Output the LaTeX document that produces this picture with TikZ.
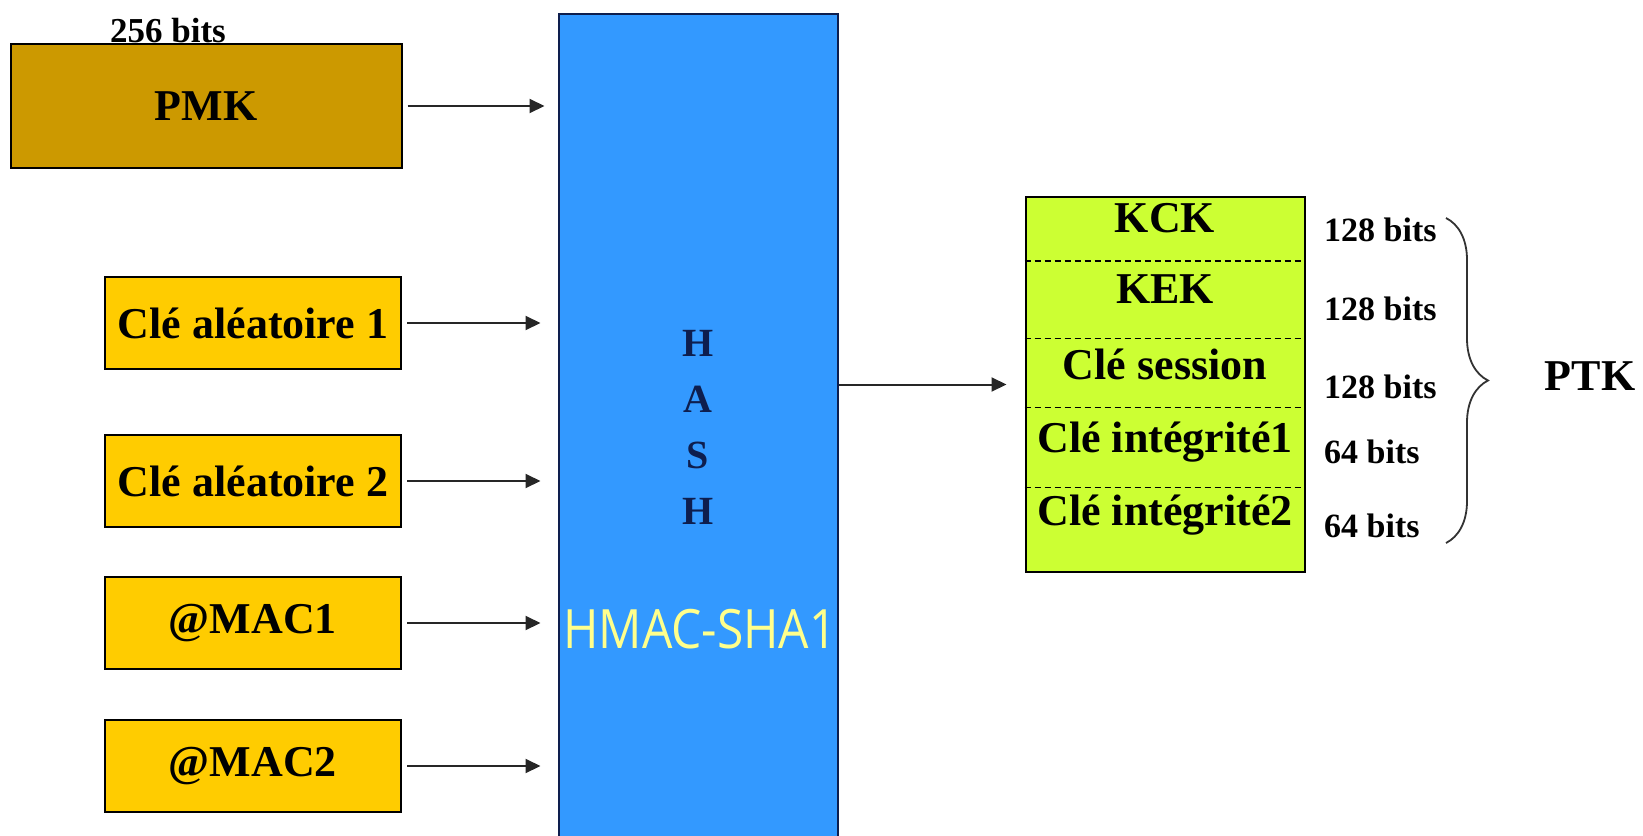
\documentclass[tikz,border=0pt]{standalone}
\usepackage{fontspec}
\setmainfont{Liberation Serif}
\newfontfamily\hmacfont{Open Sans}
\usepackage{tikz}
\usetikzlibrary{arrows.meta,positioning,calc,decorations.pathreplacing}

\definecolor{pmkgold}{RGB}{204,153,0}
\definecolor{keyyellow}{RGB}{255,204,0}
\definecolor{hashblue}{RGB}{51,153,255}
\definecolor{hashnavy}{RGB}{14,30,78}
\definecolor{ptkgreen}{RGB}{204,255,51}
\definecolor{hmacyellow}{RGB}{255,255,140}

\begin{document}
\begin{tikzpicture}[x=1pt, y=-1pt]
    \tikzset{
        inbox/.style={draw, line width=2pt, fill=keyyellow, rectangle, minimum width=296pt, minimum height=92pt, inner sep=0pt, font=\fontsize{44}{48}\selectfont\bfseries},
        field/.style={font=\fontsize{44}{48}\selectfont\bfseries, inner sep=0pt, anchor=base},
        bits/.style={font=\fontsize{34}{38}\selectfont\bfseries, inner sep=0pt, anchor=base west},
        letter/.style={font=\fontsize{40}{44}\selectfont\bfseries, text=hashnavy, inner sep=0pt, anchor=base},
        line/.style={draw, -{Triangle[length=15pt,width=14pt]}, line width=2pt, black!85}
    }
    \useasboundingbox (0,0) rectangle (1643,835);

    % keys fed into the hash
    \node [inbox, fill=pmkgold, minimum width=391pt, minimum height=124pt] (pmk) at (206,106) {PMK};
    \node [font=\fontsize{35}{38}\selectfont\bfseries, inner sep=0pt, anchor=base] (pmkbits) at (168,42) {256 bits};
    \node [inbox] (ca1) at (253,323) {Clé aléatoire 1};
    \node [inbox, below=64pt of ca1] (ca2) {Clé aléatoire 2};
    \node [inbox, below=48pt of ca2] (mac1) {@MAC1};
    \node [inbox, below=49pt of mac1] (mac2) {@MAC2};

    % hash block
    \node [draw=hashnavy, line width=2pt, fill=hashblue, minimum width=279pt, minimum height=840pt, anchor=north] (hash) at (698,12.6) {};
    \foreach \ch/\y [count=\i] in {H/356,A/412,S/468,H/524}
        \node [letter] (h\i) at (698,\y) {\ch};
    \node [font=\hmacfont\fontsize{48}{50}\selectfont, text=hmacyellow, yscale=1.13, inner sep=0pt] (hmac) at (700,629) {HMAC-SHA1};

    \path [line, shorten <=5pt, shorten >=13pt] (pmk.east) -- (pmk.east -| hash.west);
    \path [line, shorten <=5pt, shorten >=17pt] (ca1.east) -- (ca1.east -| hash.west);
    \path [line, shorten <=5pt, shorten >=17pt] (ca2.east) -- (ca2.east -| hash.west);
    \path [line, shorten <=5pt, shorten >=17pt] (mac1.east) -- (mac1.east -| hash.west);
    \path [line, shorten <=5pt, shorten >=17pt] (mac2.east) -- (mac2.east -| hash.west);

    % derived key
    \node [draw, line width=2pt, fill=ptkgreen, minimum width=279pt, minimum height=375pt] (ptk) at (1165,384.5) {};
    \foreach \dy in {65,142.5,211.6,291.3}
        \draw [line width=1.5pt, dash pattern=on 6pt off 4pt] ($(ptk.north west)+(0,\dy)$) -- ($(ptk.north east)+(0,\dy)$);
    \path [line, shorten >=18pt] (hash.east |- ptk.west) -- (ptk.west);

    \node [field] (kck) at (1165,232) {KCK};
    \node [field] (kek) at (1165,303) {KEK};
    \node [field] (session) at (1165,379) {Clé session};
    \node [field] (integ1) at (1165,452) {Clé intégrité1};
    \node [field] (integ2) at (1165,525) {Clé intégrité2};

    \node [bits] (b1) at (1324,241) {128 bits};
    \node [bits] (b2) at (1324,320) {128 bits};
    \node [bits] (b3) at (1324,398) {128 bits};
    \node [bits] (b4) at (1324,463) {64 bits};
    \node [bits] (b5) at (1324,537) {64 bits};

    \coordinate (bracetop) at (1446,218);
    \coordinate (bracebot) at (1446,543);
    \draw [decorate, decoration={brace, amplitude=42pt}, line width=1.8pt, black!80] (bracetop) -- (bracebot);
    \node [font=\fontsize{44}{48}\selectfont\bfseries, inner sep=0pt, anchor=base] (ptklabel) at (1590,390) {PTK};
\end{tikzpicture}
\end{document}
